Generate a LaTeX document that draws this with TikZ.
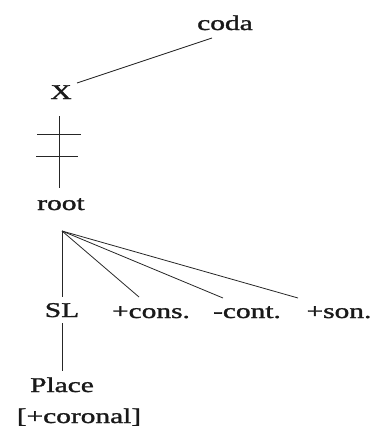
\documentclass[tikz,border=0pt]{standalone}
\usepackage{fontspec}
\usepackage{graphicx}
\setmainfont{Liberation Serif}
\newfontfamily\lblfont[FakeBold=1.2]{Liberation Serif}
\newcommand\wtxt[1]{\scalebox{1.4}[1]{#1}}
\tikzset{
  lbl/.style={inner sep=0pt, anchor=base, font=\lblfont\fontsize{21}{25}\selectfont, text=black!90},
  branch/.style={line width=0.8pt, draw=black!85}
}
\begin{document}
\begin{tikzpicture}[x=1pt, y=-1pt]
\useasboundingbox (0,0) rectangle (375,431);
% labels
\node[lbl] (coda) at (225,30) {\wtxt{coda}};
\node[lbl] (X) at (61,99) {\wtxt{X}};
\node[lbl] (root) at (61,210) {\wtxt{root}};
\node[lbl] (SL) at (62,317) {\wtxt{SL}};
\node[lbl] (cons) at (151,318) {\wtxt{+cons.}};
\node[lbl] (cont) at (247,318) {\wtxt{-cont.}};
\node[lbl] (son) at (339,318) {\wtxt{+son.}};
\node[lbl] (place) at (62,392) {\wtxt{Place}};
\node[lbl] (coronal) at (79,423) {\wtxt{[+coronal]}};
% connector end points
\coordinate (codaL) at (212,38);
\coordinate (XR) at (77,83);
\coordinate (Xb) at (59,116);
\coordinate (roott) at (59,188);
\coordinate (apex) at (62,231);
\coordinate (SLt) at (62,297);
\coordinate (consT) at (139,297);
\coordinate (contT) at (223,298);
\coordinate (sonT) at (298,298);
\coordinate (SLb) at (62,323);
\coordinate (placeT) at (62,371);
\coordinate (bar1L) at (37,134);
\coordinate (bar1R) at (81,134);
\coordinate (bar2L) at (36,156);
\coordinate (bar2R) at (78,156);
% connectors
\draw[branch] (codaL) -- (XR);
\draw[branch] (Xb) -- (roott);
\draw[branch] (bar1L) -- (bar1R);
\draw[branch] (bar2L) -- (bar2R);
\draw[branch] (apex) -- (SLt);
\draw[branch] (apex) -- (consT);
\draw[branch] (apex) -- (contT);
\draw[branch] (apex) -- (sonT);
\draw[branch] (SLb) -- (placeT);
\end{tikzpicture}
\end{document}
